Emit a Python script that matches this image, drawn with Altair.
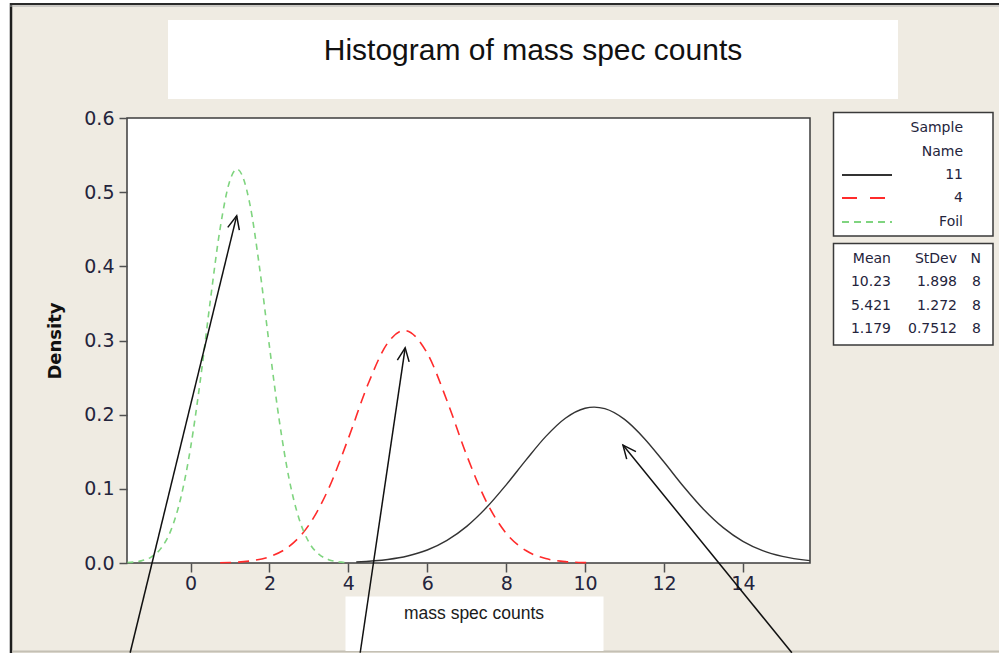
import altair as alt
import pandas as pd

# ---------------- data ----------------
title_text = "Histogram of mass spec counts"
x_title = "mass spec counts"
y_title = "Density"
legend_title = ["Sample", "Name"]
sample_names = ["11", "4", "Foil"]
stat_headers = ["Mean", "StDev", "N"]
means = [10.23, 5.421, 1.179]
stdevs = [1.898, 1.272, 0.7512]
counts = [8, 8, 8]
x_ticks = [0, 2, 4, 6, 8, 10, 12, 14]
y_ticks = [0.0, 0.1, 0.2, 0.3, 0.4, 0.5, 0.6]

# fitted curves, values
curve_11_x = [4.2, 5.0, 5.5, 6.0, 6.5, 7.0, 7.5, 8.0, 8.5, 9.0, 9.5, 10.0, 10.23, 10.5,
              11.0, 11.5, 12.0, 12.5, 13.0, 13.5, 14.0, 14.5, 15.0, 15.7]
curve_11_y = [0.0014, 0.0047, 0.0094, 0.0175, 0.0305, 0.0494, 0.0747, 0.1054, 0.1387, 0.1704,
              0.1952, 0.2087, 0.2102, 0.2081, 0.1936, 0.168, 0.1361, 0.1028, 0.0725, 0.0477,
              0.0292, 0.0167, 0.0089, 0.0032]
curve_4_x = [0.75, 1.0, 1.5, 2.0, 2.5, 3.0, 3.5, 4.0, 4.5, 5.0, 5.42, 6.0, 6.5, 7.0, 7.5,
             8.0, 8.5, 9.0, 9.5, 10.0, 10.2]
curve_4_y = [0.0004, 0.0007, 0.0027, 0.0084, 0.0224, 0.0512, 0.1003, 0.168, 0.2413, 0.2969,
             0.3136, 0.2827, 0.2188, 0.1451, 0.0825, 0.0401, 0.0168, 0.006, 0.0018, 0.0005, 0.0003]
curve_foil_x = [-1.6, -1.25, -1.0, -0.75, -0.5, -0.25, 0.0, 0.25, 0.5, 0.75, 1.0, 1.18, 1.5,
                1.75, 2.0, 2.25, 2.5, 2.75, 3.0, 3.25, 3.5, 3.75, 4.0]
curve_foil_y = [0.0006, 0.0029, 0.0079, 0.0197, 0.0437, 0.087, 0.155, 0.247, 0.353, 0.451,
                0.516, 0.531, 0.485, 0.398, 0.292, 0.192, 0.113, 0.0597, 0.0281, 0.0119,
                0.0045, 0.0015, 0.0005]

# annotation arrows (data units)
arrow_x_start = [-1.53, 4.30, 15.24]
arrow_y_start = [-0.121, -0.121, -0.121]
arrow_x_tip = [1.17, 5.44, 10.96]
arrow_y_tip = [0.468, 0.290, 0.159]

# ---------------- styles ----------------
OX, OY = 127, 118          # plot origin in the page
W, H = 683, 445            # plot size
BEIGE = "#EFEBE2"
TXT = "#24243c"
series_style = {
    "11": dict(color="#333333", strokeWidth=1.4),
    "4": dict(color="#ff2b2b", strokeWidth=1.6, strokeDash=[11, 7]),
    "Foil": dict(color="#7fd47f", strokeWidth=1.6, strokeDash=[6, 5]),
}
legend_dash = {"11": None, "4": [15, 13], "Foil": [7, 5]}
arrow_angles = [13.7, 8.4, 320.9]

dummy = pd.DataFrame({"d": [0]})


def rect(x1, y1, x2, y2, fill, stroke=None, sw=0):
    kw = dict(fill=fill)
    if stroke:
        kw.update(stroke=stroke, strokeWidth=sw)
    return alt.Chart(dummy).mark_rect(**kw).encode(
        x=alt.value(x1 - OX), x2=alt.value(x2 - OX),
        y=alt.value(y1 - OY), y2=alt.value(y2 - OY))


def hline(x1, x2, y, color, sw, dash=None):
    kw = dict(color=color, strokeWidth=sw)
    if dash:
        kw["strokeDash"] = dash
    return alt.Chart(dummy).mark_rule(**kw).encode(
        x=alt.value(x1 - OX), x2=alt.value(x2 - OX), y=alt.value(y - OY))


def vline(x, y1, y2, color, sw):
    return alt.Chart(dummy).mark_rule(color=color, strokeWidth=sw).encode(
        x=alt.value(x - OX), y=alt.value(y1 - OY), y2=alt.value(y2 - OY))


def label(text, x, y, size, font="DejaVu Sans", align="right", baseline="middle",
          color=TXT, weight="normal"):
    return alt.Chart(dummy).mark_text(
        text=text, font=font, fontSize=size, align=align, baseline=baseline,
        color=color, fontWeight=weight).encode(x=alt.value(x - OX), y=alt.value(y - OY))


xscale = alt.Scale(domain=[-1.61, 15.70], nice=False, zero=False)
yscale = alt.Scale(domain=[0, 0.6], nice=False, zero=False)
xaxis = alt.Axis(values=x_ticks, format="d", grid=False, domain=False,
                 tickSize=9, tickWidth=1.5, tickColor="#505050",
                 labelFont="DejaVu Sans", labelFontSize=19, labelColor=TXT,
                 labelPadding=2, labelOverlap=False)
yaxis = alt.Axis(values=y_ticks, format=".1f", grid=False, domain=False,
                 tickSize=8, tickWidth=1.5, tickColor="#505050",
                 labelFont="DejaVu Sans", labelFontSize=19, labelColor=TXT,
                 labelPadding=5, labelOverlap=False,
                 titleFont="DejaVu Sans", titleFontSize=18, titleFontWeight="bold",
                 titleColor="#111111", titleX=-72, titleY=H / 2, titleAngle=270,
                 titleAlign="center", titleBaseline="middle")

layers = []

# page frame
layers.append(rect(0, 0, 10, 653, "white"))
layers.append(rect(0, 0, 999, 3, "white"))
layers.append(vline(11, 3, 653, "#1e1e1e", 2.5))
layers.append(hline(10, 999, 4, "#2a2a2a", 2))
layers.append(hline(10, 999, 6, "#a8a8a8", 1))
layers.append(hline(12, 999, 651.5, "#c4c0b4", 2))

# title box
layers.append(rect(168, 20, 898, 99, "white"))
layers.append(label(title_text, 533, 60, 30, font="Liberation Sans", align="center",
                    baseline="alphabetic", color="#111111"))

# x label box
layers.append(rect(345.5, 596.5, 603.5, 651, "white"))
layers.append(label(x_title, 474, 619, 17.5, font="Liberation Sans", align="center",
                    baseline="alphabetic", color="#1a1a1a"))

# legend boxes
layers.append(rect(833.5, 112.5, 993, 236, "white", "#3a3a3a", 1.5))
layers.append(rect(833.5, 243.5, 993, 345, "white", "#3a3a3a", 1.5))
layers.append(label(legend_title[0], 963, 128, 14))
layers.append(label(legend_title[1], 963, 152, 14))
for name, ly in zip(sample_names, [175, 198, 222]):
    layers.append(label(name, 963, ly, 14))
    st = series_style[name]
    layers.append(hline(842, 892, ly, st["color"], 2, legend_dash[name]))

# statistics table
col_right = [891, 957, 981]
for h, cx in zip(stat_headers, col_right):
    layers.append(label(h, cx, 259, 14))
for i, ry in enumerate([282, 305.5, 329]):
    layers.append(label(str(means[i]), col_right[0], ry, 14))
    layers.append(label(str(stdevs[i]), col_right[1], ry, 14))
    layers.append(label(str(counts[i]), col_right[2], ry, 14))

# fitted curves
for name, cx, cy in [("11", curve_11_x, curve_11_y), ("4", curve_4_x, curve_4_y),
                     ("Foil", curve_foil_x, curve_foil_y)]:
    df = pd.DataFrame({"x": cx, "y": cy})
    layers.append(alt.Chart(df).mark_line(interpolate="monotone", **series_style[name]).encode(
        x=alt.X("x:Q", scale=xscale, axis=xaxis, title=None),
        y=alt.Y("y:Q", scale=yscale, axis=yaxis, title=y_title)))

# arrows
arrows = pd.DataFrame({"xs": arrow_x_start, "ys": arrow_y_start,
                       "xt": arrow_x_tip, "yt": arrow_y_tip})
layers.append(alt.Chart(arrows).mark_rule(color="#111111", strokeWidth=1.5).encode(
    x=alt.X("xs:Q", scale=xscale, axis=xaxis, title=None), x2=alt.X2("xt"),
    y=alt.Y("ys:Q", scale=yscale, axis=yaxis, title=y_title), y2=alt.Y2("yt")))
for i in range(len(arrow_x_tip)):
    layers.append(alt.Chart(arrows.iloc[[i]]).mark_point(
        shape="M -0.45 1 L 0 0 L 0.45 1", filled=False, size=700, strokeWidth=1.5,
        color="#111111", opacity=1, angle=arrow_angles[i]).encode(
        x=alt.X("xt:Q", scale=xscale, axis=xaxis, title=None),
        y=alt.Y("yt:Q", scale=yscale, axis=yaxis, title=y_title)))

chart = alt.layer(*layers).properties(
    width=W, height=H,
    autosize=alt.AutoSizeParams(type="none"),
    padding={"left": OX, "top": OY, "right": 999 - OX - W, "bottom": 653 - OY - H},
    background=BEIGE,
).configure_view(fill="white", stroke="#3c3c3c", strokeWidth=1.5)

chart.save("out.html", embed_options={"renderer": "svg", "actions": False})
